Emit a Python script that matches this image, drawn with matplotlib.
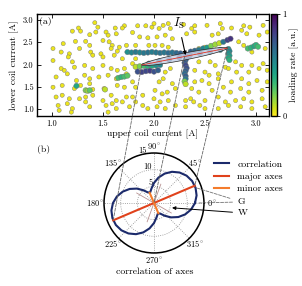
import numpy as np
import matplotlib
matplotlib.use('Agg')
import matplotlib.pyplot as plt
from matplotlib.patches import ConnectionPatch
from matplotlib.lines import Line2D

plt.rcParams['font.family'] = ['cmr10', 'DejaVu Serif']
plt.rcParams['mathtext.fontset'] = 'cm'
plt.rcParams['axes.formatter.use_mathtext'] = True
plt.rcParams['font.size'] = 7
plt.rcParams['axes.unicode_minus'] = False

# ---------------- data: panel (a) ----------------
bg_x = [1.42, 1.26, 1.45, 1.62, 1.71, 1.69, 1.84, 1.92, 1.98, 1.20, 1.28, 1.37, 1.43, 1.53, 1.55, 1.63,
        1.79, 1.86, 1.94, 1.11, 1.23, 1.33, 1.37, 1.50, 1.56, 1.59, 1.73, 1.66, 1.82, 1.95, 1.01, 1.09,
        1.17, 1.27, 1.38, 1.48, 1.58, 1.64, 1.01, 1.16, 1.20, 1.40, 1.50, 1.61, 1.69, 1.82, 1.79, 1.09,
        1.12, 1.22, 1.32, 1.40, 1.50, 1.58, 1.64, 1.71, 1.04, 1.15, 1.24, 1.32, 1.37, 1.46, 1.55, 1.63,
        1.73, 1.79, 1.01, 1.10, 1.22, 1.28, 1.37, 1.40, 1.51, 1.64, 1.71, 1.82, 1.04, 1.10, 1.17, 1.27,
        1.33, 1.40, 1.50, 1.58, 1.63, 1.73, 1.79, 1.89, 1.06, 1.15, 1.20, 1.33, 1.37, 1.53, 1.59, 1.69,
        1.76, 1.82, 1.89, 1.07, 1.19, 1.55, 1.63, 1.94,
        2.00, 2.05, 2.09, 2.14, 2.16, 2.29, 2.37, 2.40, 2.52, 2.65, 2.67, 2.76, 2.88, 2.94, 3.07, 2.03,
        2.11, 2.18, 2.32, 2.40, 2.57, 2.63, 2.86, 2.91, 3.03, 3.11, 2.01, 2.08, 2.14, 2.44, 2.50, 2.83,
        2.88, 2.96, 3.09, 2.44, 2.55, 2.60, 2.70, 2.80, 2.86, 2.96, 3.07, 2.03, 2.11, 2.16, 2.40, 2.50,
        2.54, 2.63, 2.73, 2.81, 2.93, 3.03, 3.11, 2.05, 2.09, 2.18, 2.40, 2.47, 2.54, 2.63, 2.76, 2.86,
        2.93, 3.01, 3.11, 2.01, 2.08, 2.13, 2.21, 2.37, 2.44, 2.57, 2.68, 2.75, 2.85, 2.93, 3.06, 2.00,
        2.06, 2.14, 2.31, 2.36, 2.39, 2.50, 2.63, 2.70, 2.80, 2.88, 2.96, 3.06, 2.03, 2.11, 2.21, 2.31,
        2.45, 2.50, 2.63, 2.73, 2.85, 2.96, 3.09]
bg_y = [2.94, 2.82, 2.84, 2.82, 2.87, 2.82, 2.87, 2.87, 2.84, 2.75, 2.75, 2.67, 2.73, 2.73, 2.66, 2.69,
        2.72, 2.62, 2.60, 2.47, 2.52, 2.52, 2.43, 2.54, 2.51, 2.43, 2.43, 2.39, 2.43, 2.43, 2.36, 2.28,
        2.24, 2.36, 2.28, 2.24, 2.36, 2.30, 2.09, 2.17, 2.06, 2.21, 2.17, 2.21, 2.13, 2.13, 2.02, 1.91,
        1.87, 1.94, 1.98, 1.91, 1.98, 1.91, 1.87, 1.91, 1.72, 1.79, 1.64, 1.76, 1.68, 1.72, 1.76, 1.68,
        1.79, 1.61, 1.49, 1.53, 1.46, 1.53, 1.57, 1.44, 1.46, 1.53, 1.49, 1.49, 1.27, 1.31, 1.23, 1.23,
        1.27, 1.31, 1.19, 1.31, 1.19, 1.27, 1.27, 1.31, 1.08, 1.12, 1.01, 1.16, 1.05, 1.08, 1.12, 1.16,
        1.05, 1.16, 1.08, 0.97, 0.93, 0.93, 1.01, 1.01,
        2.92, 2.81, 2.88, 2.92, 2.81, 2.90, 2.81, 2.87, 2.88, 2.92, 2.81, 2.82, 2.87, 2.84, 2.88, 2.62,
        2.66, 2.58, 2.69, 2.73, 2.66, 2.69, 2.77, 2.69, 2.66, 2.73, 2.43, 2.43, 2.39, 2.36, 2.39, 2.51,
        2.43, 2.28, 2.36, 2.06, 2.06, 1.98, 1.94, 2.06, 1.98, 1.98, 2.02, 1.87, 1.83, 1.91, 1.87, 1.83,
        1.76, 1.79, 1.91, 1.83, 1.83, 1.91, 1.87, 1.61, 1.68, 1.57, 1.61, 1.64, 1.57, 1.68, 1.61, 1.68,
        1.57, 1.64, 1.61, 1.42, 1.34, 1.38, 1.46, 1.46, 1.38, 1.42, 1.49, 1.38, 1.46, 1.38, 1.42, 1.23,
        1.16, 1.19, 1.19, 1.23, 1.16, 1.19, 1.27, 1.16, 1.19, 1.23, 1.16, 1.23, 1.05, 1.01, 1.08, 1.05,
        1.08, 1.01, 1.01, 1.08, 1.05, 1.01, 1.05]
bg_rate = 0.03

band_x = [1.74, 1.78, 1.82, 1.86, 1.90, 1.94, 1.98, 2.02, 2.06, 2.10, 2.14, 2.18, 2.22, 2.26,
          2.36, 2.40, 2.44, 2.48, 2.52, 2.56, 2.60, 2.64, 2.68, 2.72, 2.75,
          1.82, 1.86, 1.90, 1.94, 1.98, 2.02, 2.06,
          1.84, 1.88, 1.92, 1.96, 2.00, 2.04,
          1.95, 2.05, 2.15, 2.25, 2.35, 2.45, 2.55, 2.65,
          2.31, 2.32, 2.31, 2.30, 2.31, 2.32, 2.31, 2.30, 2.31, 2.31, 2.30, 2.31,
          2.73, 2.74, 2.73, 2.74, 2.73, 2.74,
          2.92, 2.95, 2.98, 3.00, 3.02,
          1.65, 1.68, 1.71, 1.74,
          1.24, 1.33, 1.35, 1.37, 1.52]
band_y = [2.28, 2.27, 2.28, 2.27, 2.26, 2.27, 2.28, 2.27, 2.26, 2.27, 2.26, 2.27, 2.26, 2.25,
          2.29, 2.31, 2.33, 2.36, 2.38, 2.42, 2.45, 2.48, 2.51, 2.55, 2.58,
          1.95, 1.96, 1.97, 1.96, 1.97, 1.98, 1.99,
          1.84, 1.83, 1.85, 1.86, 1.84, 1.87,
          2.02, 2.07, 2.11, 2.16, 2.20, 2.25, 2.29, 2.33,
          2.22, 2.16, 2.10, 2.04, 1.98, 1.92, 1.86, 1.80, 1.74, 1.68, 1.62, 1.56,
          2.35, 2.30, 2.25, 2.20, 2.15, 2.10,
          2.36, 2.38, 2.41, 2.44, 2.40,
          1.70, 1.72, 1.73, 1.75,
          1.52, 1.42, 1.41, 1.42, 1.44]
band_rate = [0.50, 0.55, 0.60, 0.55, 0.60, 0.62, 0.58, 0.60, 0.62, 0.60, 0.65, 0.62, 0.66, 0.70,
             0.70, 0.65, 0.60, 0.55, 0.45, 0.20, 0.15, 0.10, 0.60, 0.80, 0.85,
             0.10, 0.20, 0.30, 0.35, 0.40, 0.50, 0.55,
             0.75, 0.80, 0.78, 0.82, 0.75, 0.70,
             0.60, 0.65, 0.70, 0.75, 0.70, 0.65, 0.60, 0.55,
             0.80, 0.75, 0.70, 0.72, 0.78, 0.75, 0.70, 0.65, 0.70, 0.60, 0.20, 0.10,
             0.50, 0.55, 0.50, 0.45, 0.40, 0.35,
             0.30, 0.35, 0.40, 0.35, 0.30,
             0.30, 0.35, 0.30, 0.25,
             0.40, 0.20, 0.15, 0.25, 0.10]

ell_center = (2.30, 2.18)
ell_major = (0.42, 0.19)      # half vector along major axis (data units)
ell_minor = (-0.007, 0.075)   # half vector along minor axis
is_point = (2.31, 2.21)
is_label = (2.24, 2.93)

xticks = [1.0, 1.5, 2.0, 2.5, 3.0]
yticks = [1.0, 1.5, 2.0, 2.5, 3.0]

# ---------------- data: panel (b) ----------------
corr_theta = [0, 10, 20, 30, 40, 50, 60, 70, 80, 90, 100, 110, 120, 130, 140, 150, 160, 170,
              180, 190, 200, 210, 220, 230, 240, 250, 260, 270, 280, 290, 300, 310, 320, 330, 340, 350]
corr_r = [12.31, 12.98, 13.28, 13.21, 12.76, 11.94, 10.81, 9.39, 7.75, 6.02, 4.39, 3.37, 3.66, 5.01,
          6.72, 8.43, 9.98, 11.30,
          12.31, 12.98, 13.28, 13.21, 12.76, 11.94, 10.81, 9.39, 7.75, 6.02, 4.39, 3.37, 3.66, 5.01,
          6.72, 8.43, 9.98, 11.30]
major_angle, major_r = 23, 13.3
minor_angle, minor_r = 113, 3.3
aux_angles = [150, 70]
aux_r = [6.0, 6.0]
g_points = [(20, 13.4), (0, 13.5)]
w_point = (-15, 5.6)
theta_ticks = [0, 45, 90, 135, 180, 225, 270, 315]
r_ticks = [5, 10, 15]

c_corr = '#1b2a6b'
c_major = '#e0421c'
c_minor = '#f47c2c'

fig = plt.figure(figsize=(3.02, 2.86), dpi=100)

# ---------------- panel (a) ----------------
ax = fig.add_axes([0.1225, 0.5944, 0.768, 0.3566])
sc = ax.scatter(bg_x, bg_y, c=[bg_rate] * len(bg_x), cmap='viridis_r', vmin=0, vmax=1,
                s=9, edgecolors='0.45', linewidths=0.3, zorder=2)
ax.scatter(band_x, band_y, c=band_rate, cmap='viridis_r', vmin=0, vmax=1,
           s=15, edgecolors='0.45', linewidths=0.3, zorder=3)

t = np.linspace(0, 2 * np.pi, 120)
ex = ell_center[0] + ell_major[0] * np.cos(t) + ell_minor[0] * np.sin(t)
ey = ell_center[1] + ell_major[1] * np.cos(t) + ell_minor[1] * np.sin(t)
ax.fill(ex, ey, facecolor='#c3d0e6', alpha=0.8, edgecolor='none', zorder=4)
ax.plot(ex, ey, color='0.15', lw=0.5, zorder=5)
ax.plot([ell_center[0] - ell_major[0], ell_center[0] + ell_major[0]],
        [ell_center[1] - ell_major[1], ell_center[1] + ell_major[1]],
        color='#e03020', lw=0.6, zorder=5)
ax.annotate(r'$I_\mathrm{S}$', xy=is_point, xytext=is_label, ha='center', va='center', fontsize=9,
            arrowprops=dict(arrowstyle='-|>', color='k', lw=0.8, mutation_scale=5,
                            shrinkA=3, shrinkB=0), zorder=6)

ax.set_xlim(0.853, 3.127)
ax.set_ylim(0.843, 3.135)
ax.set_xticks(xticks)
ax.set_yticks(yticks)
ax.set_xticklabels([f'{v:.1f}' for v in xticks])
ax.set_yticklabels([f'{v:.1f}' for v in yticks])
ax.tick_params(direction='in', top=True, right=True, length=3, width=0.6, labelsize=6, pad=2.5)
for s in ax.spines.values():
    s.set_linewidth(1.0)
ax.set_xlabel('upper coil current [A]', labelpad=1)
ax.set_ylabel('lower coil current [A]', labelpad=3)
ax.text(0.008, 0.975, '(a)', transform=ax.transAxes, ha='left', va='top', fontsize=7)

cax = fig.add_axes([0.897, 0.5944, 0.0199, 0.3566])
cb = fig.colorbar(sc, cax=cax, ticks=[0, 1])
cb.ax.set_yticklabels(['0', '1'])
cb.ax.tick_params(labelsize=6, length=2, width=0.6, pad=2)
cb.outline.set_linewidth(1.0)
cb.set_label('loading rate [a.u.]', fontsize=7, labelpad=2)

# ---------------- panel (b) ----------------
axp = fig.add_axes([0.3444, 0.1154, 0.331, 0.3497], projection='polar')
th = np.deg2rad(corr_theta + [corr_theta[0]])
axp.plot(th, corr_r + [corr_r[0]], color=c_corr, lw=1.5, zorder=3)
axp.plot(np.deg2rad([major_angle + 180, major_angle]), [major_r, major_r], color=c_major, lw=1.5, zorder=4)
axp.plot(np.deg2rad([minor_angle, minor_angle + 180]), [minor_r, minor_r], color=c_minor, lw=1.5, zorder=4)
for a, r in zip(aux_angles, aux_r):
    axp.plot(np.deg2rad([a, a + 180]), [r, r], color='#b89292', lw=0.6, zorder=2)

axp.set_ylim(0, 15)
axp.set_yticks(r_ticks)
axp.set_yticklabels([str(v) for v in r_ticks], fontsize=6)
axp.set_rlabel_position(108)
axp.set_xticks(np.deg2rad(theta_ticks))
axp.set_xticklabels([])
for d in theta_ticks:
    c, s_ = np.cos(np.deg2rad(d)), np.sin(np.deg2rad(d))
    axp.annotate(f'{d}$^\\circ$', xy=(np.deg2rad(d), 15), xytext=(6.0 * c, 5.0 * s_),
                 textcoords='offset points', ha='center', va='center', fontsize=6,
                 annotation_clip=False)
axp.grid(True, ls=':', color='0.55', lw=0.6)
axp.spines['polar'].set_linewidth(1.1)
fig.text(155 / 302, 1 - 272 / 286, 'correlation of axes', ha='center', va='center', fontsize=7)
fig.text(44 / 302, 1 - 149 / 286, '(b)', ha='center', va='center', fontsize=7)

# annotations G and W
for i, (ang, r) in enumerate(g_points):
    axp.annotate('G' if i == 0 else '', xy=(np.deg2rad(ang), r),
                 xytext=(238 / 302, 1 - 202 / 286), textcoords='figure fraction',
                 ha='left', va='center', fontsize=7, annotation_clip=False,
                 arrowprops=dict(arrowstyle='-', color='0.45', lw=0.6, ls='--',
                                 shrinkA=4, shrinkB=0))
axp.annotate('W', xy=(np.deg2rad(w_point[0]), w_point[1]),
             xytext=(238 / 302, 1 - 213 / 286), textcoords='figure fraction',
             ha='left', va='center', fontsize=7, annotation_clip=False,
             arrowprops=dict(arrowstyle='-|>', color='k', lw=0.7, mutation_scale=5,
                             shrinkA=2, shrinkB=0))

# legend
handles = [Line2D([], [], color=c_corr, lw=1.5), Line2D([], [], color=c_major, lw=1.5),
           Line2D([], [], color=c_minor, lw=1.5)]
fig.legend(handles, ['correlation', 'major axes', 'minor axes'], loc='upper left',
           bbox_to_anchor=(210 / 302, 1 - 156 / 286), frameon=False, fontsize=7,
           handlelength=1.6, handletextpad=0.8, labelspacing=0.35, borderaxespad=0)

# connection lines between panels
conn = [((ell_center[0] - ell_major[0], ell_center[1] - ell_major[1]), (major_angle + 180, major_r)),
        (ell_center, (0, 0)),
        ((ell_center[0] + ell_major[0], ell_center[1] + ell_major[1]), (major_angle, major_r))]
for pa, pb in conn:
    cp = ConnectionPatch(xyA=pa, coordsA=ax.transData,
                         xyB=(np.deg2rad(pb[0]), pb[1]), coordsB=axp.transData,
                         ls='--', color='0.4', lw=0.6, zorder=10)
    fig.add_artist(cp)

fig.savefig('out.png', dpi=100)
